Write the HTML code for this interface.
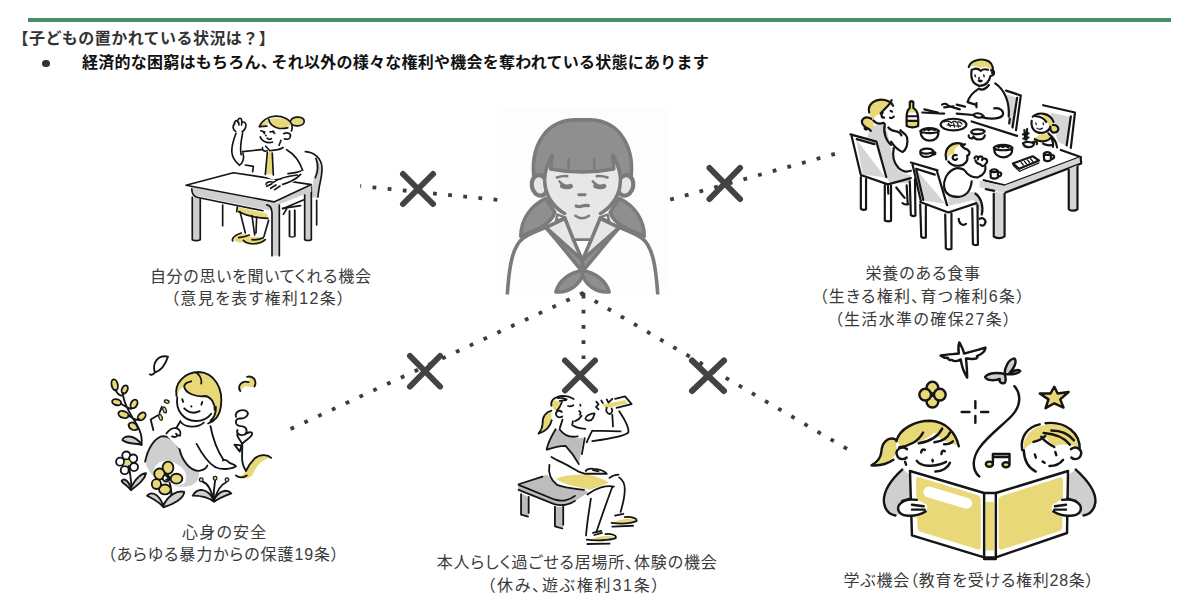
<!DOCTYPE html>
<html lang="ja">
<head>
<meta charset="utf-8">
<title>子どもの置かれている状況は？</title>
<style>
html,body{margin:0;padding:0;background:#fff;}
body{width:1200px;height:615px;position:relative;overflow:hidden;font-family:"Liberation Sans","Noto Sans CJK JP",sans-serif;}
.bar{position:absolute;left:28px;top:18px;width:1143px;height:3.5px;background:#43906a;}
.t{position:absolute;white-space:nowrap;line-height:20px;font-size:16px;}
.h1{left:12.5px;top:29px;font-weight:bold;color:#333;letter-spacing:.45px;}
.h2{left:82px;top:52.7px;font-weight:bold;color:#111;letter-spacing:.25px;}
.h2 span{margin-right:-5.5px;}
.dot{position:absolute;left:42px;top:59.5px;width:7.5px;height:7.5px;border-radius:50%;background:#333;}
.lb{font-feature-settings:"palt";position:absolute;white-space:nowrap;font-size:16px;line-height:20px;color:#3a3a3a;text-align:center;transform:translateX(-50%);}
#art{position:absolute;left:0;top:0;}
</style>
</head>
<body>
<div class="bar"></div>
<div class="t h1">【子どもの置かれている状況は？】</div>
<div class="dot"></div>
<div class="t h2">経済的な困窮はもちろん<span>、</span>それ以外の様々な権利や機会を奪われている状態にあります</div>

<svg id="art" width="1200" height="615" viewBox="0 0 1200 615">
<!-- desk girl -->
<g transform="translate(180,105) scale(0.13333)" stroke="#151515" stroke-width="12.5" stroke-linejoin="round" stroke-linecap="round" fill="none">
  <!-- chair -->
  <path d="M1010 395 C 1050 420, 1075 470, 1050 560 L 1030 700 L 985 690 L 1000 560 C 1020 500, 1030 440, 1010 395 Z" fill="#cfcfcf" stroke="none"/>
  <path d="M940 350 C 1010 355, 1060 400, 1065 470 C 1068 540, 1040 600, 1035 690"/>
  <path d="M1020 400 C 1040 450, 1035 500, 1015 545 M 1025 715 L 1025 900"/>
  <path d="M770 775 L 905 755 M 775 820 L 800 780 M 822 795 L 822 985 M 860 790 L 860 985 M 822 985 Q 840 995 860 985" />
  <path d="M822 795 L 860 790 L 860 985 L 822 985 Z" fill="#fff" stroke="none"/>
  <path d="M822 795 L 822 985 M 860 790 L 860 985"/>
  <!-- desk legs -->
  <path d="M92 690 L 92 1010 Q 120 1025 152 1010 L 152 700 Z" fill="#cfcfcf" stroke="none"/>
  <path d="M92 690 L 92 1010 Q 120 1025 152 1010 L 152 705"/>
  <path d="M935 640 L 935 1010 Q 960 1022 985 1010 L 985 610 Z" fill="#cfcfcf" stroke="none"/>
  <path d="M935 650 L 935 1010 Q 960 1022 985 1010 L 985 610"/>
  <path d="M320 750 L 320 905"/>
  <!-- girl legs -->
  <path d="M430 765 L 655 815 L 660 860 L 430 800 Z" fill="#e8d877" stroke="none"/>
  <path d="M430 765 L 425 800 M 440 800 Q 540 850 660 850"/>
  <path d="M450 800 L 490 960 M 540 830 L 560 975 M 665 865 L 630 985 M 575 840 L 570 960"/>
  <path d="M395 1000 C 420 960, 500 960, 530 985 C 500 1040, 420 1050, 395 1000 Z" fill="#e8d877" stroke="none"/>
  <path d="M480 1020 C 520 975, 610 985, 640 1010 C 600 1060, 500 1065, 480 1020 Z" fill="#e8d877" stroke="none"/>
  <path d="M460 960 C 410 975, 385 1000, 395 1020 M 440 995 Q 480 990 520 975 M 475 1015 C 500 1050, 600 1050, 640 1010 M 540 1010 Q 580 1015 625 995"/>
  <!-- desk apron -->
  <path d="M85 615 L 705 735 L 693 810 C 690 790, 670 790, 622 782 L 135 683 C 105 678, 92 665, 88 640 Z" fill="#cfcfcf" stroke="none"/>
  <path d="M88 628 C 88 670, 105 688, 135 694 L 622 793"/>
  <path d="M745 745 L 985 650 L 985 600 L 740 715 Z" fill="#cfcfcf" stroke="none"/>
  <path d="M770 778 L 925 712"/>
  <!-- front leg -->
  <path d="M651 735 C 680 755, 690 775, 690 810 L 690 1130 L 745 1130 L 745 730 Z" fill="#cfcfcf" stroke="none"/>
  <path d="M651 749 C 680 755, 690 775, 690 810 L 690 1130 M 745 1130 L 745 750"/>
  <!-- table top -->
  <path d="M45 602 L 400 508 L 985 597 L 705 727 Z" fill="#fff"/>
  <!-- body -->
  <path d="M470 350 L 610 335 L 800 335 C 860 370, 900 430, 920 490 C 880 520, 760 540, 700 560 L 545 500 L 550 460 L 490 450 Z" fill="#fff" stroke="none"/>
  <path d="M470 350 L 610 335 M 800 335 C 860 370, 900 430, 920 490 M 810 515 Q 880 510 920 490 M 490 450 L 550 460 L 545 500"/>
  <!-- tie -->
  <path d="M660 355 L 690 355 L 700 520 L 645 520 Z" fill="#e8d877" stroke="none"/>
  <path d="M655 355 L 640 520 M 692 360 L 700 525"/>
  <!-- collar -->
  <path d="M619 319 C 612 340, 632 350, 653 343 M 643 309 C 652 320, 666 332, 673 343 M 673 343 C 713 340, 755 332, 773 319"/>
  <!-- raised arm -->
  <path d="M470 210 C 455 280, 450 330, 458 372 L 480 400 C 475 430, 460 445, 440 445 C 395 400, 375 340, 420 212 Z" fill="#fff" stroke="none"/>
  <path d="M420 212 C 375 330, 375 390, 440 445 M 470 210 C 455 280, 450 330, 458 372 M 472 360 C 485 400, 470 440, 445 452"/>
  <!-- hand -->
  <path d="M418 198 C 392 185, 392 150, 412 138 M 405 150 C 405 125, 420 112, 432 120 M 432 128 C 432 100, 452 92, 460 106 C 466 118, 464 135, 462 150 M 440 130 L 442 150 M 470 128 C 492 125, 500 150, 492 168 C 486 185, 476 195, 466 200"/>
  <!-- arm on desk -->
  <path d="M920 490 C 880 530, 790 545, 700 580 L 650 585 L 760 610 C 830 600, 900 560, 920 490 Z" fill="#fff" stroke="none"/>
  <path d="M905 520 C 870 560, 800 590, 770 595 M 880 525 C 800 535, 740 550, 700 580 M 700 580 C 670 570, 645 580, 645 595 M 650 610 L 690 590 M 680 625 L 720 600 M 710 635 L 750 608"/>
  <!-- head -->
  <path d="M600 160 C 590 220, 600 260, 640 282 C 690 300, 760 290, 800 240 C 840 200, 820 120, 740 100 C 680 90, 620 110, 600 160 Z" fill="#fff" stroke="none"/>
  <path d="M602 160 C 612 135, 640 115, 662 112 C 662 135, 655 150, 648 158 Z" fill="#e8d877" stroke="none"/>
  <path d="M674 106 C 700 95, 770 95, 815 115 C 830 135, 828 160, 812 172 C 770 180, 720 175, 692 150 C 680 135, 675 120, 674 106 Z" fill="#e8d877" stroke="none"/>
  <ellipse cx="880" cy="121" rx="46" ry="30" fill="#e8d877" stroke="none"/>
  <path d="M596 162 C 610 120, 660 86, 715 84 C 770 82, 830 110, 840 152 C 842 170, 840 185, 836 195"/>
  <path d="M596 162 L 652 158 M 666 108 C 668 140, 700 170, 745 176 C 770 178, 790 175, 808 172"/>
  <path d="M830 118 C 850 78, 930 85, 932 124 C 928 160, 865 165, 838 145"/>
  <path d="M606 193 L 636 202 M 622 198 L 633 215 M 676 202 L 703 197 M 693 198 L 710 213 M 643 228 L 645 230"/>
  <path d="M602 238 C 606 268, 650 290, 693 279 M 653 249 C 665 260, 680 260, 686 252"/>
  <path d="M777 215 C 805 200, 838 215, 826 242 C 818 258, 798 260, 784 254 M 757 266 L 743 302"/>
</g>
<!-- end desk -->
<!-- dinner -->
<g transform="translate(840,50) scale(0.208333)" stroke="#151515" stroke-width="10.5" stroke-linejoin="round" stroke-linecap="round" fill="none">
  <!-- father's chair -->
  <path d="M800 212 L 846 228 L 825 372 L 812 350 Z" fill="#d4d5d7" stroke="none"/>
  <path d="M797 195 L 868 218 L 845 385 M 850 230 L 828 372 M 815 330 L 812 352"/>
  <!-- girl's chair -->
  <path d="M1010 300 L 1106 322 L 1090 462 L 1045 440 Z" fill="#d4d5d7" stroke="none"/>
  <path d="M975 265 L 1128 300 L 1108 470 M 1108 318 L 1088 458"/>
  <!-- mother's chair back -->
  <path d="M60 412 L 172 442 L 222 615 L 100 600 Z" fill="#fff" stroke="none"/>
  <path d="M78 430 L 218 612 L 108 598 Z" fill="#d4d5d7" stroke="none"/>
  <!-- table top -->
  <path d="M330 300 L 632 343 L 1155 514 L 790 650 L 300 600 Z" fill="#fff" stroke="none"/>
  <path d="M632 343 L 850 412 M 1060 480 L 1155 514 L 790 650 L 690 625"/>
  <!-- table edge -->
  <path d="M1155 514 L 1155 548 L 790 686 L 790 650 Z" fill="#d4d5d7" stroke="none"/>
  <path d="M670 628 L 790 652 L 790 686 L 670 660 Z" fill="#d4d5d7" stroke="none"/>
  <path d="M1155 514 L 1158 545 L 795 684 M 700 668 L 740 676"/>
  <!-- legs -->
  <path d="M738 680 L 738 895 Q 765 912 790 895 L 790 686 Z" fill="#d4d5d7" stroke="none"/>
  <path d="M738 690 L 738 895 Q 765 912 790 895 L 790 690"/>
  <path d="M1098 570 L 1098 765 Q 1120 778 1140 765 L 1140 552 Z" fill="#d4d5d7" stroke="none"/>
  <path d="M1098 575 L 1098 765 Q 1120 778 1140 765 L 1140 560"/>
  <!-- father -->
  <path d="M680 185 C 640 200, 620 225, 612 250 L 650 262 L 655 300 C 690 330, 780 340, 810 310 C 815 250, 790 190, 745 160 Z" fill="#fff" stroke="none"/>
  <path d="M660 190 C 635 205, 620 225, 612 250 L 650 262 M 745 160 C 790 190, 815 250, 810 320 M 655 255 L 655 275 M 740 280 C 770 275, 790 295, 780 315 C 760 335, 700 330, 680 322"/>
  <path d="M560 305 L 640 312 C 650 300, 675 300, 690 318 M 640 312 C 650 325, 670 328, 685 322"/>
  <path d="M665 185 Q 690 200 715 168"/>
  <path d="M632 95 C 625 140, 640 165, 670 172 C 700 172, 722 150, 725 120 C 740 120, 745 100, 728 95 Z" fill="#fff" stroke="none"/>
  <path d="M618 80 C 625 50, 680 35, 715 55 C 735 70, 740 95, 728 100 C 715 80, 690 75, 675 88 C 660 75, 640 75, 618 80 Z" fill="#e8d877" stroke="none"/>
  <path d="M618 82 C 625 50, 680 35, 715 55 C 735 70, 738 95, 730 110 M 632 95 C 625 140, 640 165, 670 172 C 700 172, 718 150, 722 125 M 722 125 C 745 122, 745 95, 725 98 M 640 92 Q 660 85 675 100 Q 690 88 710 95"/>
  <path d="M648 120 L 650 128 M 690 120 L 692 128 M 664 148 Q 672 156 682 148 Q 672 142 664 148 M 668 132 L 666 140" stroke-width="7"/>
  <!-- little girl -->
  <path d="M925 420 C 940 400, 1000 395, 1030 415 L 1045 465 L 930 450 Z" fill="#fff" stroke="none"/>
  <path d="M935 425 C 950 400, 990 395, 1015 415 C 1005 440, 960 445, 935 425 Z" fill="#e8d877" stroke="none"/>
  <path d="M1000 400 C 1025 420, 1040 445, 1042 468 M 1015 425 C 1022 440, 1025 455, 1022 465 M 935 428 C 960 445, 1000 440, 1012 420 M 975 450 Q 1000 462 1020 455"/>
  <path d="M920 340 C 915 380, 940 400, 970 398 C 1000 395, 1015 370, 1010 340 C 1000 310, 940 305, 920 340 Z" fill="#fff" stroke="none"/>
  <path d="M960 305 C 1000 300, 1030 330, 1022 360 C 1050 360, 1055 390, 1030 395 C 1015 395, 1008 385, 1008 375 C 1000 350, 985 325, 960 305 Z" fill="#e8d877" stroke="none"/>
  <path d="M925 320 C 950 295, 1010 300, 1025 345 M 920 340 C 915 380, 940 400, 970 398 C 990 396, 1005 385, 1010 368 M 1022 360 C 1050 358, 1058 388, 1032 396 C 1018 398, 1008 388, 1010 372 M 940 318 Q 975 320 990 345"/>
  <path d="M940 350 L 942 358 M 975 350 L 977 358 M 945 375 Q 958 385 972 375" stroke-width="6"/>
  <path d="M885 385 L 890 430 M 898 380 L 895 430 M 878 405 L 905 400 M 880 425 L 905 420"/>
  <!-- mother -->
  <path d="M150 365 L 215 355 C 240 420, 240 480, 260 530 C 270 570, 285 590, 340 600 L 330 640 L 240 640 L 215 600 L 170 455 L 130 420 Z" fill="#d4d5d7" stroke="none"/>
  <path d="M215 355 C 205 400, 225 440, 245 455 M 258 470 C 250 510, 262 545, 280 565 C 300 585, 325 585, 340 580"/>
  <path d="M232 372 C 260 400, 300 395, 318 410 C 330 440, 320 480, 300 490 C 280 480, 260 460, 245 440 Z" fill="#fff" stroke="none"/>
  <path d="M232 372 C 250 395, 270 385, 282 395 M 290 385 C 300 400, 318 400, 322 420 C 328 450, 318 480, 300 490 C 280 482, 262 465, 245 440 M 285 395 L 295 410"/>
  <path d="M150 290 C 140 330, 165 355, 200 352 C 235 350, 255 320, 250 290 C 240 255, 170 250, 150 290 Z" fill="#fff" stroke="none"/>
  <path d="M140 300 C 130 260, 170 230, 215 240 C 235 245, 250 255, 252 265 C 230 265, 205 280, 195 305 C 180 310, 165 320, 160 335 C 150 325, 142 315, 140 300 Z" fill="#e8d877" stroke="none"/>
  <path d="M150 330 C 120 315, 100 335, 110 355 C 118 375, 140 375, 150 385 C 165 370, 165 345, 150 330 Z" fill="#e8d877" stroke="none"/>
  <path d="M140 300 C 130 260, 170 230, 215 240 C 235 245, 250 255, 255 268 M 248 240 C 240 265, 215 280, 195 305 M 150 330 C 120 312, 98 335, 108 355 C 116 375, 138 372, 148 388 M 130 380 Q 120 385 118 375 M 160 338 C 170 352, 190 356, 210 350 M 205 300 C 195 310, 198 325, 212 325 M 243 292 L 250 296 M 240 325 Q 250 330 258 320" />
  <!-- mother's chair -->
  <path d="M50 405 L 175 440 M 55 410 L 100 600 M 175 440 L 222 610 M 80 428 L 165 452 M 100 600 L 230 645 L 340 615 M 100 610 L 100 760 M 125 620 L 125 765 M 100 762 Q 112 770 125 765 M 215 650 L 215 815 M 245 650 L 245 820 M 215 818 Q 230 826 245 820 M 335 630 L 340 790 M 360 620 L 362 795 M 340 792 Q 352 800 362 795 M 230 645 L 232 690"/>
  <path d="M270 660 L 310 710 M 320 650 L 325 740 M 300 735 Q 315 745 328 740"/>
  <!-- front chair -->
  <path d="M345 545 L 465 580 L 512 745 L 388 725 Z" fill="#fff" stroke="none"/>
  <path d="M365 572 L 505 738 L 398 722 Z" fill="#d4d5d7" stroke="none"/>
  <path d="M340 540 L 468 578 M 348 548 L 388 725 M 465 580 L 515 748 M 365 570 L 455 598 M 365 570 L 400 720"/>
  <!-- boy -->
  <path d="M520 690 L 650 680 C 680 700, 690 740, 680 780 L 640 740 L 520 770 Z" fill="#d4d5d7" stroke="none"/>
  <path d="M545 570 C 510 590, 495 630, 500 660 C 505 690, 530 705, 570 705 C 610 700, 630 670, 635 620 L 690 610 L 700 570 L 640 590 L 600 575 Z" fill="#fff" stroke="none"/>
  <path d="M545 572 C 510 590, 495 630, 500 660 C 505 690, 530 705, 570 705 C 610 700, 628 670, 632 630 M 600 580 C 610 600, 640 615, 665 610 C 690 600, 700 580, 698 560 M 595 575 Q 570 560 545 572 M 650 690 C 680 710, 690 760, 680 790 M 570 810 C 570 835, 590 845, 605 835 M 670 810 C 690 800, 705 820, 695 835 C 690 845, 680 845, 675 840"/>
  <path d="M510 480 C 500 530, 530 560, 570 555 C 600 550, 615 530, 612 505 C 625 500, 625 485, 612 480 C 600 445, 530 440, 510 480 Z" fill="#fff" stroke="none"/>
  <path d="M512 520 C 495 470, 530 440, 580 450 C 560 460, 545 480, 548 500 C 530 500, 518 510, 512 520 Z" fill="#e8d877" stroke="none"/>
  <path d="M510 525 C 495 470, 540 435, 590 452 M 580 455 C 590 470, 600 475, 612 478 M 590 460 L 600 452 M 612 480 C 628 488, 622 505, 610 508 C 618 530, 600 552, 575 555 C 550 558, 530 548, 520 535 M 560 505 C 545 500, 535 515, 545 525 C 552 530, 560 528, 562 522"/>
  <path d="M645 520 C 650 505, 668 510, 662 525 M 665 515 C 675 505, 690 512, 682 528 M 690 522 C 705 518, 712 535, 700 545 C 695 560, 680 560, 675 550 M 650 530 Q 655 545 670 548"/>
  <!-- front chair seat/legs -->
  <path d="M385 728 L 520 780 L 655 735 L 640 720 L 515 750 Z" fill="#fff" stroke="none"/>
  <path d="M385 730 L 520 780 L 655 735 M 385 742 L 390 895 M 412 750 L 412 900 M 390 897 Q 400 905 412 900 M 505 790 L 508 950 M 535 785 L 535 955 M 508 952 Q 520 960 535 955 M 635 760 L 638 930 M 660 745 L 662 935 M 638 932 Q 650 940 662 935"/>
  <!-- table items -->
  <path d="M335 250 L 335 278 C 320 290, 318 310, 320 365 Q 348 378 375 365 C 378 310, 372 290, 352 278 L 352 250 Z" fill="#e8d877" stroke="none"/>
  <path d="M325 300 L 372 300 L 372 335 L 325 335 Z" fill="#fff" stroke="none"/>
  <path d="M335 250 L 335 278 C 320 290, 318 310, 320 365 Q 348 378 375 365 C 378 310, 372 290, 352 278 L 352 250 Q 343 242 335 250 M 322 318 L 372 318 M 322 340 L 374 340"/>
  <path d="M395 300 L 500 305 M 405 285 L 470 300 M 490 262 C 500 255, 515 258, 520 268 L 575 285 M 500 275 L 545 270 M 560 262 L 600 272"/>
  <ellipse cx="545" cy="358" rx="62" ry="28" fill="#fff"/>
  <path d="M500 345 Q 520 335 535 350 Q 545 335 560 348 Q 575 340 585 355 M 515 360 L 580 365 M 520 352 L 530 368 M 545 350 L 550 370 M 565 352 L 568 370" stroke-width="6"/>
  <path d="M388 390 C 385 420, 410 435, 430 435 C 455 435, 475 420, 472 392 Z" fill="#fff" stroke="none"/>
  <path d="M388 392 C 385 420, 410 435, 430 435 C 455 435, 475 420, 472 392 M 385 390 C 400 370, 460 370, 475 390 C 460 402, 400 402, 385 390 M 405 385 Q 415 375 425 385 Q 440 375 455 385"/>
  <path d="M630 395 C 625 380, 680 375, 695 390 C 690 405, 640 410, 630 395 M 618 410 C 615 420, 625 428, 640 422 M 640 415 C 650 435, 690 435, 695 410" />
  <path d="M385 488 C 388 470, 440 468, 448 485 C 440 500, 395 502, 385 488 M 385 495 C 390 520, 440 520, 450 492 M 448 490 C 460 488, 462 500, 450 502"/>
  <path d="M740 470 C 738 500, 760 515, 785 515 C 810 515, 830 498, 826 472 Z" fill="#fff" stroke="none"/>
  <path d="M740 472 C 738 500, 760 515, 785 515 C 810 515, 830 498, 826 472 M 738 470 C 750 450, 815 450, 828 470 C 815 485, 752 485, 738 470 M 760 468 Q 770 455 782 466 Q 795 455 808 468"/>
  <path d="M880 452 C 885 470, 920 472, 930 455 M 878 448 C 890 438, 920 440, 932 450 M 925 445 C 935 435, 950 440, 945 452"/>
  <path d="M830 545 L 925 510 L 955 530 L 860 570 Z" fill="#fff"/>
  <path d="M832 555 L 862 582 L 955 542 M 870 540 L 880 552 M 885 534 L 895 546 M 900 528 L 910 540 M 915 522 L 925 534" stroke-width="6"/>
  <path d="M978 500 L 980 528 Q 995 538 1012 528 L 1012 498 Z" fill="#fff" stroke="none"/>
  <path d="M978 498 C 985 488, 1005 488, 1012 498 C 1005 506, 985 506, 978 498 M 978 500 L 980 528 Q 995 538 1012 528 L 1012 500 M 1012 505 C 1030 500, 1035 520, 1014 524"/>
  <path d="M722 582 L 724 612 Q 740 622 758 612 L 758 580 Z" fill="#fff" stroke="none"/>
  <path d="M722 580 C 730 570, 750 570, 758 580 C 750 588, 730 588, 722 580 M 722 582 L 724 612 Q 740 622 758 612 L 758 582 M 758 588 C 776 582, 782 604, 760 608"/>
</g>
<!-- end dinner -->
<!-- book kids -->
<g transform="translate(870,335) scale(0.19508)" stroke="#151515" stroke-width="12.5" stroke-linejoin="round" stroke-linecap="round" fill="none">
  <!-- decorations -->
  <path d="M458 38 C 470 60, 480 80, 482 95 C 520 85, 560 75, 592 65 C 590 85, 570 100, 548 108 C 555 112, 548 122, 535 122 C 520 125, 505 122, 492 120 C 495 150, 498 185, 498 218 C 480 190, 470 160, 465 125 C 450 135, 430 135, 420 128 C 410 130, 398 125, 400 118 C 385 118, 370 112, 362 105 C 395 100, 430 98, 455 95 C 452 75, 452 55, 458 38 Z"/>
  <path d="M690 200 C 650 190, 605 195, 590 215 C 600 235, 640 235, 665 225 C 660 240, 675 252, 690 245 C 700 235, 695 215, 690 200 Z" fill="#cfcfcf"/>
  <path d="M690 200 C 690 165, 710 125, 740 120 C 755 135, 740 170, 715 195 C 740 180, 765 175, 770 185 C 760 200, 720 205, 690 200 Z" fill="#cfcfcf"/>
  <g fill="#e8d877">
    <circle cx="320" cy="270" r="30"/><circle cx="320" cy="342" r="30"/><circle cx="283" cy="306" r="30"/><circle cx="358" cy="306" r="30"/>
  </g>
  <path d="M540 340 L 540 375 M 540 415 L 540 450 M 470 395 L 510 395 M 570 395 L 606 395"/>
  <path d="M945 265 L 962 300 L 1018 292 L 975 330 L 992 372 L 945 350 L 900 375 L 915 330 L 870 300 L 925 300 Z" fill="#e8d877"/>
  <path d="M740 262 C 775 300, 775 360, 730 410 C 690 455, 600 520, 560 580 C 525 630, 520 690, 560 725"/>
  <!-- music note -->
  <path d="M630 655 L 630 610 L 715 610 L 715 660 M 630 625 L 715 625"/>
  <ellipse cx="612" cy="662" rx="18" ry="13" fill="#e8d877"/><ellipse cx="697" cy="665" rx="18" ry="13" fill="#e8d877"/>
  <!-- girl sleeve/body -->
  <path d="M165 690 C 110 740, 70 800, 80 860 C 85 900, 100 920, 130 925 L 215 900 L 210 720 Z" fill="#cfcfcf" stroke="none"/>
  <path d="M165 690 C 110 740, 65 800, 72 860 C 78 900, 100 920, 130 925"/>
  <!-- boy sleeve/body -->
  <path d="M1055 690 C 1110 740, 1160 800, 1152 860 C 1145 900, 1125 920, 1095 925 L 1010 900 L 1012 720 Z" fill="#cfcfcf" stroke="none"/>
  <path d="M1055 690 C 1110 740, 1162 800, 1155 860 C 1148 900, 1125 920, 1095 925"/>
  <!-- girl head -->
  <path d="M140 580 C 140 640, 200 700, 290 700 C 360 700, 410 660, 405 600 C 400 540, 340 500, 270 505 C 200 510, 150 540, 140 580 Z" fill="#fff" stroke="none"/>
  <path d="M140 545 C 150 480, 230 440, 310 440 C 390 445, 440 500, 450 565 C 400 560, 350 530, 330 500 C 290 540, 220 560, 160 575 Z" fill="#e8d877" stroke="none"/>
  <path d="M130 535 C 90 520, 60 560, 60 600 C 55 630, 30 655, 10 665 C 60 670, 110 650, 140 600 Z" fill="#e8d877" stroke="none"/>
  <path d="M135 545 C 150 480, 230 440, 310 440 C 390 445, 440 500, 455 570 M 130 535 C 90 518, 60 555, 58 600 C 55 630, 30 655, 8 668 C 50 672, 90 660, 120 640"/>
  <path d="M150 575 C 200 570, 250 545, 272 500 M 250 555 C 310 545, 350 520, 370 480 M 330 550 C 370 545, 400 525, 410 500 M 380 560 Q 410 560 425 545"/>
  <circle cx="165" cy="605" r="30" fill="#fff" stroke="none"/>
  <path d="M190 585 C 160 565, 125 590, 140 620 C 150 640, 175 640, 188 628"/>
  <path d="M180 650 L 185 665"/>
  <path d="M262 602 L 266 590 Q 272 584 281 589 M 366 610 L 369 598 Q 375 591 384 596 M 240 645 C 260 675, 330 680, 390 650 M 320 640 L 322 648 M 335 700 C 370 700, 400 680, 410 655"/>
  <!-- boy head -->
  <path d="M785 580 C 790 650, 850 700, 930 700 C 1010 700, 1060 640, 1060 580 C 1050 510, 990 470, 920 470 C 850 475, 790 520, 785 580 Z" fill="#fff" stroke="none"/>
  <path d="M790 588 C 780 505, 850 462, 925 458 C 1005 458, 1068 505, 1068 582 L 1030 562 C 1000 560, 960 562, 940 572 L 898 522 L 845 548 C 820 558, 802 572, 790 588 Z" fill="#e8d877" stroke="none"/>
  <path d="M780 590 C 768 520, 810 470, 870 458 M 900 452 C 1000 440, 1080 500, 1075 590"/>
  <path d="M838 548 C 868 540, 888 528, 898 518 M 878 522 C 898 548, 920 562, 945 574 M 890 502 C 950 506, 1000 530, 1025 562 M 930 490 C 980 490, 1020 510, 1045 540"/>
  <circle cx="1050" cy="605" r="30" fill="#fff" stroke="none"/>
  <path d="M1030 585 C 1060 565, 1095 590, 1078 622 C 1068 640, 1045 640, 1032 628"/>
  <path d="M788 590 C 790 640, 810 680, 850 700"/>
  <path d="M845 612 L 850 628 M 950 600 L 955 616 M 885 648 L 895 655 M 920 672 C 950 672, 975 660, 990 640"/>
  <!-- book -->
  <path d="M205 697 L 585 810 L 645 810 L 1015 697 L 1010 1015 L 645 1140 L 585 1140 L 215 1027 Z" fill="#fff"/>
  <path d="M255 730 L 555 822 Q 568 828 568 845 L 568 1085 Q 568 1105 550 1098 L 262 1010 Q 245 1005 244 985 L 235 750 Q 235 725 255 730 Z" fill="#e8d878" stroke="none"/>
  <path d="M672 826 L 970 732 Q 990 727 990 750 L 985 985 Q 985 1000 968 1006 L 680 1098 Q 660 1103 660 1085 L 658 848 Q 658 832 672 826 Z" fill="#e8d878" stroke="none"/>
  <path d="M592 855 L 635 855 L 635 1105 L 592 1105 Z" fill="#e8d878" stroke="none"/>
  <path d="M585 810 L 585 1140 M 645 810 L 645 1140 M 585 1148 L 645 1148" />
  <path d="M302 805 L 495 862" stroke="#fff" stroke-width="56"/>
  <!-- hands -->
  <path d="M175 850 C 140 860, 130 900, 160 920 C 200 935, 260 925, 290 900 C 300 880, 290 865, 270 860 C 250 840, 210 840, 175 850 Z" fill="#fff" stroke="none"/>
  <path d="M240 845 C 200 840, 165 850, 150 870 C 135 895, 150 920, 185 925 C 220 930, 260 920, 285 905 M 215 870 L 275 878 M 215 895 L 280 895 M 165 850 L 210 838"/>
  <path d="M1045 850 C 1080 860, 1090 900, 1060 920 C 1020 935, 960 925, 935 900 C 925 880, 935 865, 955 860 C 975 840, 1010 840, 1045 850 Z" fill="#fff" stroke="none"/>
  <path d="M985 845 C 1025 840, 1060 850, 1075 870 C 1090 895, 1075 920, 1040 925 C 1005 930, 965 920, 940 905 M 1005 870 L 948 878 M 1005 895 L 945 895 M 1055 850 L 1010 838"/>
</g>
<!-- end book -->
<!-- flower girl -->
<g transform="translate(100,345) scale(0.15451)" stroke="#151515" stroke-width="12" stroke-linejoin="round" stroke-linecap="round" fill="none">
  <!-- top leaf -->
  <path d="M440 75 C 380 62, 335 110, 355 178 C 400 165, 425 120, 440 75 Z M 355 178 C 345 192, 330 196, 322 190" fill="#fff"/>
  <!-- yellow swirl -->
  <path d="M908 298 C 885 262, 920 228, 962 240 C 975 228, 968 212, 952 206 C 992 195, 1018 232, 1000 268 C 980 282, 955 262, 938 268 C 922 274, 918 288, 908 298 Z" fill="#e8d877" stroke="none"/>
  <path d="M908 298 C 885 262, 920 228, 962 240 M 952 206 C 992 195, 1018 232, 1000 268" />
  <!-- left plant -->
  <g fill="#e8d877">
    <ellipse cx="95" cy="258" rx="20" ry="36" transform="rotate(-12 95 258)"/>
    <ellipse cx="160" cy="288" rx="18" ry="28" transform="rotate(25 160 288)"/>
    <ellipse cx="108" cy="370" rx="30" ry="19" transform="rotate(15 108 370)"/>
    <ellipse cx="220" cy="382" rx="20" ry="30" transform="rotate(30 220 382)"/>
    <ellipse cx="152" cy="450" rx="34" ry="21" transform="rotate(18 152 450)"/>
    <ellipse cx="270" cy="462" rx="20" ry="30" transform="rotate(45 270 462)"/>
    <path d="M185 515 C 200 490, 240 500, 245 545 C 220 560, 185 545, 185 515 Z"/>
  </g>
  <path d="M100 290 C 120 330, 150 340, 150 310 M 135 380 C 170 400, 200 420, 205 410 M 185 455 C 215 480, 240 490, 255 480 M 150 330 C 160 400, 200 450, 235 510 C 265 560, 275 610, 268 648"/>
  <path d="M145 615 C 150 585, 220 575, 270 645 C 230 635, 180 645, 145 615 Z" fill="#cfcfcf"/>
  <!-- sprig -->
  <path d="M345 550 L 328 482 L 375 455 M 385 440 L 400 400"/>
  <g fill="#e8d877" stroke-width="8"><ellipse cx="432" cy="366" rx="16" ry="10" transform="rotate(20 432 366)"/><ellipse cx="418" cy="420" rx="10" ry="20" transform="rotate(-20 418 420)"/><ellipse cx="392" cy="468" rx="10" ry="20" transform="rotate(-20 392 468)"/></g>
  <!-- rock -->
  <path d="M292 755 C 310 665, 360 593, 410 590 C 450 590, 490 635, 515 675 C 530 745, 580 810, 640 817 C 648 870, 615 912, 560 916 C 450 925, 330 885, 292 755 Z" fill="#cfcfcf" stroke="none"/>
  <path d="M292 755 C 310 665, 360 592, 410 590 C 450 590, 490 635, 512 670"/>
  <!-- body/legs -->
  <path d="M520 498 L 505 540 C 470 545, 440 565, 435 590 L 515 675 C 530 745, 580 815, 640 815 C 670 810, 690 795, 695 780 L 745 790 C 780 805, 850 800, 880 785 L 800 745 C 760 690, 730 600, 715 525 L 690 500 Z" fill="#fff" stroke="none"/>
  <path d="M515 675 C 530 745, 580 815, 640 815 C 670 810, 690 795, 695 780 M 625 640 C 660 705, 700 765, 745 790 M 715 525 C 730 605, 760 685, 800 745"/>
  <path d="M745 790 C 780 810, 850 805, 880 785 C 870 770, 850 770, 835 760 C 825 745, 800 740, 795 748"/>
  <path d="M521 492 L 495 536 M 521 496 C 545 535, 630 540, 672 502"/>
  <path d="M495 536 C 470 535, 445 550, 430 573 M 495 538 C 518 548, 525 568, 518 586 C 508 588, 496 584, 492 574 M 500 588 C 490 598, 475 596, 466 592"/>
  <!-- head -->
  <path d="M500 335 C 488 420, 540 492, 620 492 C 685 492, 730 450, 740 400 L 700 320 L 560 270 Z" fill="#fff" stroke="none"/>
  <path d="M495 330 C 480 250, 545 175, 640 175 C 740 180, 800 280, 782 400 C 775 455, 742 492, 700 508 C 740 460, 745 400, 730 370 C 700 325, 640 340, 600 325 C 570 310, 550 285, 545 265 C 520 280, 505 310, 495 330 Z" fill="#e8d877" stroke="none"/>
  <path d="M495 330 C 480 250, 545 175, 640 175 C 740 180, 800 280, 782 400 C 775 455, 742 492, 700 508 M 625 180 C 650 200, 660 230, 655 250 M 590 235 C 560 240, 545 255, 545 270 C 552 310, 620 340, 680 330 C 720 335, 745 380, 742 420 M 750 400 C 752 440, 735 475, 715 490"/>
  <path d="M500 340 C 488 420, 540 492, 620 492 C 665 492, 700 472, 720 445"/>
  <path d="M532 350 L 538 368 M 662 368 L 656 386 M 590 396 L 592 398 M 545 410 Q 590 455 645 428"/>
  <!-- right curly plant -->
  <path d="M880 465 C 870 430, 920 410, 950 430 C 970 450, 940 480, 905 475 C 870 480, 870 520, 910 525 C 950 525, 960 560, 935 580 C 900 590, 880 570, 890 550 M 935 580 C 960 560, 985 560, 985 575 C 980 600, 940 615, 920 640 C 900 600, 880 590, 890 570 M 920 640 C 925 700, 905 760, 945 815 M 870 645 L 915 650 L 905 690 Z"/>
  <!-- yellow tail leaf -->
  <path d="M880 845 C 940 865, 960 785, 1000 735 C 1040 700, 1090 715, 1105 730 C 1050 735, 1010 785, 985 845 C 950 875, 900 865, 880 845 Z" fill="#e8d877" stroke="none"/>
  <path d="M945 815 C 960 780, 975 760, 1000 735 C 1040 700, 1090 712, 1108 730 M 880 845 C 900 862, 930 860, 950 845"/>
  <!-- white flower -->
  <path d="M205 925 C 200 870, 195 820, 185 780"/>
  <g fill="#fff"><circle cx="170" cy="715" r="26"/><circle cx="215" cy="735" r="26"/><circle cx="220" cy="790" r="26"/><circle cx="160" cy="810" r="26"/><circle cx="130" cy="755" r="26"/></g>
  <circle cx="178" cy="762" r="18" fill="#e8d877" stroke="none"/>
  <path d="M140 880 C 150 860, 180 870, 200 925 C 230 860, 270 830, 298 830 C 290 870, 250 900, 200 940 C 180 910, 150 900, 140 880 Z" fill="#cfcfcf"/>
  <!-- yellow flower halo -->
  <path d="M350 810 C 360 748, 440 728, 492 768 C 545 790, 570 840, 552 888 C 530 918, 420 918, 368 882 C 345 860, 345 830, 350 810 Z" fill="#fff" stroke="none"/>
  <path d="M460 1005 C 465 960, 460 920, 450 890"/>
  <g fill="#e8d877"><ellipse cx="440" cy="795" rx="35" ry="40"/><ellipse cx="495" cy="865" rx="38" ry="32"/><ellipse cx="420" cy="935" rx="38" ry="32"/><ellipse cx="365" cy="900" rx="30" ry="32"/><ellipse cx="385" cy="835" rx="34" ry="36"/></g>
  <circle cx="428" cy="862" r="22" fill="#fff"/>
  <path d="M430 850 C 445 850, 445 875, 428 872"/>
  <path d="M305 975 C 330 945, 380 960, 410 1040 C 440 970, 500 940, 545 950 C 545 990, 480 1030, 410 1050 C 380 1010, 330 990, 305 975 Z" fill="#cfcfcf"/>
  <!-- bottom right plant -->
  <path d="M600 975 C 630 920, 700 925, 735 1005 C 770 940, 820 930, 850 960 C 810 975, 770 990, 738 1015 C 700 985, 650 975, 600 975 Z" fill="#cfcfcf"/>
  <path d="M735 1000 C 735 950, 740 910, 745 875 M 735 1000 C 720 940, 700 895, 665 885 M 740 1000 C 760 940, 790 900, 815 890"/>
  <g fill="#e8d877" stroke-width="8"><circle cx="745" cy="862" r="12"/><circle cx="655" cy="872" r="12"/><circle cx="822" cy="872" r="12"/></g>
</g>
<!-- end flower -->
<!-- drink girl -->
<g transform="translate(510,385) scale(0.13825)" stroke="#151515" stroke-width="13" stroke-linejoin="round" stroke-linecap="round" fill="none">
  <!-- bench -->
  <path d="M60 718 L 270 648 C 290 690, 330 722, 400 742 L 540 758 L 565 778 L 470 840 C 430 870, 370 870, 320 860 L 60 758 Z" fill="#bdbdbd" stroke="none"/>
  <path d="M80 785 L 80 940 L 135 955 L 135 810 Z" fill="#bdbdbd" stroke="none"/>
  <path d="M325 880 L 325 1025 L 385 1040 L 385 880 Z" fill="#bdbdbd" stroke="none"/>
  <path d="M62 718 L 235 662 M 62 722 L 320 828 C 370 845, 430 835, 470 802 M 62 758 L 320 862 C 380 878, 440 862, 470 838"/>
  <path d="M80 790 L 80 938 L 130 952 M 135 810 L 135 925 M 325 880 L 325 1022 L 378 1038 M 385 880 L 385 1010"/>
  <!-- body white -->
  <path d="M330 320 C 300 380, 270 430, 265 470 L 285 578 C 275 640, 300 692, 340 722 C 400 690, 480 690, 540 700 L 700 645 L 545 622 L 500 570 L 530 380 Z" fill="#fff" stroke="none"/>
  <path d="M330 678 C 380 660, 430 652, 480 650 L 545 646 C 600 652, 680 680, 715 708 L 578 758 C 500 735, 400 728, 330 678 Z" fill="#e8d877" stroke="none"/>
  <!-- tank top -->
  <path d="M330 320 C 300 380, 272 430, 268 468 C 320 448, 380 440, 402 440 C 440 480, 480 540, 500 572 L 530 382 C 480 392, 400 372, 360 322 Z" fill="#bdbdbd" stroke="none"/>
  <path d="M330 320 C 300 370, 272 420, 265 468 M 268 468 C 320 448, 380 440, 402 440 C 440 480, 480 540, 498 572 M 360 322 C 390 365, 440 380, 490 372 M 540 385 L 520 500"/>
  <!-- arm across lap -->
  <path d="M300 520 C 340 545, 400 570, 450 600 C 480 620, 510 635, 545 642 L 700 642 C 690 625, 650 608, 605 606 C 575 602, 555 610, 548 622" />
  <path d="M285 578 C 275 640, 300 692, 340 722 C 400 745, 470 750, 535 758"/>
  <path d="M600 615 L 640 625"/>
  <!-- legs -->
  <path d="M560 792 C 620 745, 700 722, 750 732 C 740 700, 730 690, 720 672 C 760 640, 820 672, 830 742 C 832 820, 810 882, 800 918 L 760 940 L 625 1062 L 550 1085 L 585 822 Z" fill="#fff" stroke="none"/>
  <path d="M560 792 C 620 745, 700 722, 752 735 M 720 672 C 740 655, 765 648, 785 648 M 790 668 C 820 690, 832 720, 830 760 C 830 820, 810 882, 800 918 M 740 738 C 700 842, 660 962, 625 1062 M 585 822 C 570 922, 555 1012, 550 1088"/>
  <!-- shoes -->
  <path d="M745 998 C 800 960, 900 965, 920 985 C 900 1000, 800 1000, 745 998 Z" fill="#e8d877" stroke="none"/>
  <path d="M760 945 L 820 932 M 735 998 C 800 1005, 880 1000, 915 985 C 925 965, 880 950, 830 955 M 740 1024 L 890 1018"/>
  <path d="M595 1118 C 640 1085, 740 1088, 768 1105 C 740 1122, 650 1125, 595 1118 Z" fill="#e8d877" stroke="none"/>
  <path d="M600 1070 L 660 1055 M 610 1085 L 665 1070 M 555 1118 C 620 1128, 720 1125, 765 1108 C 775 1085, 730 1075, 690 1078 M 560 1150 L 720 1148"/>
  <!-- head -->
  <path d="M310 100 C 350 70, 420 75, 460 100 L 510 150 L 500 200 L 520 220 L 470 262 L 455 292 L 460 312 C 440 350, 390 340, 360 312 L 380 250 C 340 240, 300 180, 310 100 Z" fill="#fff" stroke="none"/>
  <path d="M305 120 C 320 105, 350 110, 370 130 C 375 150, 365 175, 345 185 C 320 190, 300 170, 305 120 Z" fill="#e8d877" stroke="none"/>
  <path d="M300 185 C 260 195, 235 230, 238 280 C 235 310, 220 335, 208 350 C 250 335, 290 300, 300 250 Z" fill="#e8d877" stroke="none"/>
  <path d="M300 150 C 290 110, 330 80, 380 78 C 410 78, 440 88, 460 102 M 345 95 C 370 90, 395 95, 410 105 M 360 115 L 405 110 M 375 125 C 365 150, 355 170, 340 182 M 300 185 C 260 195, 232 230, 236 280 C 234 310, 220 335, 206 352 C 250 338, 290 305, 302 255"/>
  <path d="M375 195 C 350 175, 325 195, 335 220 C 345 238, 365 238, 378 228"/>
  <path d="M420 152 Q 440 158 458 146 M 508 142 L 510 150 M 500 188 C 510 195, 515 205, 505 215 M 518 222 C 505 245, 485 255, 470 262 M 455 262 L 450 290 C 470 305, 510 315, 545 318 M 380 250 C 375 270, 365 295, 360 312"/>
  <!-- drop -->
  <path d="M612 205 C 580 205, 545 225, 545 245 C 550 262, 590 262, 600 240 C 605 225, 610 215, 612 205 Z" fill="#fff"/>
  <!-- bottle -->
  <path d="M625 130 L 830 82 L 880 138 L 700 178 Z" fill="#fff" stroke="none"/>
  <path d="M670 142 L 835 108 L 850 135 L 690 168 Z" fill="#e8d877" stroke="none"/>
  <path d="M760 100 L 832 82 L 880 138 L 770 165 M 625 120 L 640 140 L 622 160 L 640 175 M 660 112 L 672 130 M 700 105 L 712 128 L 740 100"/>
  <path d="M700 165 C 690 185, 700 205, 720 210 C 740 205, 745 185, 735 170" fill="#fff"/>
  <!-- arm -->
  <path d="M740 200 L 790 190 C 830 250, 862 310, 856 342 C 840 372, 700 392, 595 406 L 555 415 L 595 330 L 745 332 Z" fill="#fff" stroke="none"/>
  <path d="M790 190 C 830 250, 862 310, 856 342 C 840 372, 700 392, 595 406 M 740 215 L 745 300 M 595 330 L 800 336 M 595 330 C 575 370, 560 400, 555 415"/>
</g>
<!-- end drink -->
<!-- center box -->
<rect x="497" y="107" width="172.6" height="187.4" fill="#fdfdfd"/>
<!-- center girl -->
<clipPath id="boxclip"><rect x="497" y="107" width="172.6" height="187.4"/></clipPath>
<g clip-path="url(#boxclip)">
<g transform="translate(497,100) scale(0.1626)" stroke="#7b7b7b" stroke-width="22" stroke-linejoin="round" stroke-linecap="round" fill="none">
  <!-- pigtails -->
  <path d="M300 605 C 210 650, 148 730, 146 838 C 230 805, 335 765, 356 690 Z" fill="#8f8f8f"/>
  <path d="M752 605 C 842 650, 904 730, 906 838 C 822 805, 717 765, 696 690 Z" fill="#8f8f8f"/>
  <!-- body -->
  <path d="M60 1250 C 72 1020, 95 900, 160 850 C 210 815, 290 790, 420 735 L 632 735 C 762 790, 842 815, 892 850 C 957 900, 980 1020, 992 1250 Z" fill="#fefefe"/>
  <!-- back hair -->
  <path d="M232 510 C 195 300, 290 128, 475 122 L 575 122 C 760 128, 855 300, 820 510 Z" fill="#8f8f8f"/>
  <!-- ears -->
  <ellipse cx="262" cy="525" rx="48" ry="64" fill="#e7e7e7" transform="rotate(-10 262 525)" stroke-width="26"/>
  <ellipse cx="790" cy="525" rx="48" ry="64" fill="#e7e7e7" transform="rotate(10 790 525)" stroke-width="26"/>
  <!-- face + neck fill -->
  <path d="M333 350 C 300 420, 284 470, 296 530 C 308 600, 355 665, 416 698 L 470 859 L 580 859 L 636 698 C 697 665, 744 600, 756 530 C 768 470, 752 420, 719 350 Z" fill="#e7e7e7" stroke="none"/>
  <path d="M470 859 L 525 985 L 580 859 Z" fill="#fefefe" stroke-width="16"/>
  <path d="M333 350 C 300 420, 284 470, 296 530 C 308 600, 355 665, 416 698 M 636 698 C 697 665, 744 600, 756 530 C 768 470, 752 420, 719 350"/>
  <!-- bangs -->
  <path d="M333 345 L 330 424 Q 523 462 718 424 L 716 345 Z" fill="#8f8f8f" stroke="none"/>
  <path d="M338 340 L 330 424 Q 523 462 718 424 L 712 340" />
  <path d="M440 365 L 440 438 M 598 365 L 598 438" stroke-width="16"/>
  <!-- collar -->
  <path d="M300 785 L 418 728 L 470 859 L 525 985 Z" fill="#e7e7e7"/>
  <path d="M752 785 L 634 728 L 580 859 L 525 985 Z" fill="#e7e7e7"/>
  <path d="M300 785 L 365 860 L 520 1050 L 525 985 Z" fill="#8f8f8f"/>
  <path d="M752 785 L 687 860 L 530 1050 L 525 985 Z" fill="#8f8f8f"/>
  <path d="M362 745 L 372 705 L 420 722 Z M 690 745 L 680 705 L 632 722 Z" fill="#fefefe" stroke-width="16"/>
  <!-- scarf -->
  <path d="M520 1050 C 450 1060, 380 1110, 362 1180 C 440 1190, 520 1130, 530 1060 Z" fill="#8f8f8f"/>
  <path d="M530 1050 C 600 1060, 670 1110, 690 1180 C 610 1190, 535 1130, 522 1060 Z" fill="#8f8f8f"/>
  <!-- features -->
  <g stroke-width="16">
    <path d="M368 476 Q 405 464 432 468"/>
    <path d="M614 468 Q 645 464 680 476"/>
    <path d="M383 500 Q 392 512 408 520" stroke-width="14"/>
    <path d="M402 528 Q 425 540 452 530" stroke-width="30"/>
    <path d="M588 500 Q 597 512 613 520" stroke-width="14"/>
    <path d="M607 528 Q 630 540 657 530" stroke-width="30"/>
    <path d="M503 583 L 542 583" stroke-width="18"/>
    <path d="M487 652 Q 505 660 523 652 Q 545 646 562 650" stroke-width="20"/>
    <path d="M482 712 Q 523 742 566 712" stroke-width="15"/>
  </g>
</g>
</g>
<!-- dotted connectors -->
<g stroke="#3c3c3c" stroke-width="3.8" stroke-dasharray="3.8 11.4" fill="none">
<path d="M357.4 185.8 L497.7 199.9"/>
<path d="M670.2 199.7 L835.6 153.7"/>
<path d="M583.5 292.8 L289.8 429.3"/>
<path d="M583.5 294.6 L583.5 359"/>
<path d="M581.5 293.2 L854 453"/>
</g>
<rect x="350" y="178" width="10.3" height="14" fill="#fff"/>
<!-- X marks -->
<g stroke="#434343" stroke-width="6" stroke-linecap="round" fill="none">
<path d="M403 174 L433 204 M433 174 L403 204"/>
<path d="M709.5 168 L740 199 M740 168 L709.5 199"/>
<path d="M410 356 L440 386.5 M440 356 L410 386.5"/>
<path d="M565 360.5 L595 390.5 M595 360.5 L565 390.5"/>
<path d="M692 360.5 L724 391 M724 360.5 L692 391"/>
</g>
</svg>

<div class="lb" style="left:260.75px;top:266.8px;letter-spacing:0.731px">自分の思いを聞いてくれる機会</div>
<div class="lb" style="left:258.75px;top:289.3px;letter-spacing:1.373px">（意見を表す権利12条）</div>
<div class="lb" style="left:923.25px;top:263.8px;letter-spacing:0.890px">栄養のある食事</div>
<div class="lb" style="left:922.50px;top:287.3px;letter-spacing:1.298px">（生きる権利、育つ権利6条）</div>
<div class="lb" style="left:923.50px;top:309.8px;letter-spacing:1.389px">（生活水準の確保27条）</div>
<div class="lb" style="left:224.75px;top:523.3px;letter-spacing:1.205px">心身の安全</div>
<div class="lb" style="left:223.75px;top:544.8px;letter-spacing:0.896px">（あらゆる暴力からの保護19条）</div>
<div class="lb" style="left:577.25px;top:553.3px;letter-spacing:0.842px">本人らしく過ごせる居場所、体験の機会</div>
<div class="lb" style="left:574.25px;top:576.3px;letter-spacing:1.798px">（休み、遊ぶ権利31条）</div>
<div class="lb" style="left:969.00px;top:571.3px;letter-spacing:0.766px">学ぶ機会（教育を受ける権利28条）</div>
</body>
</html>
